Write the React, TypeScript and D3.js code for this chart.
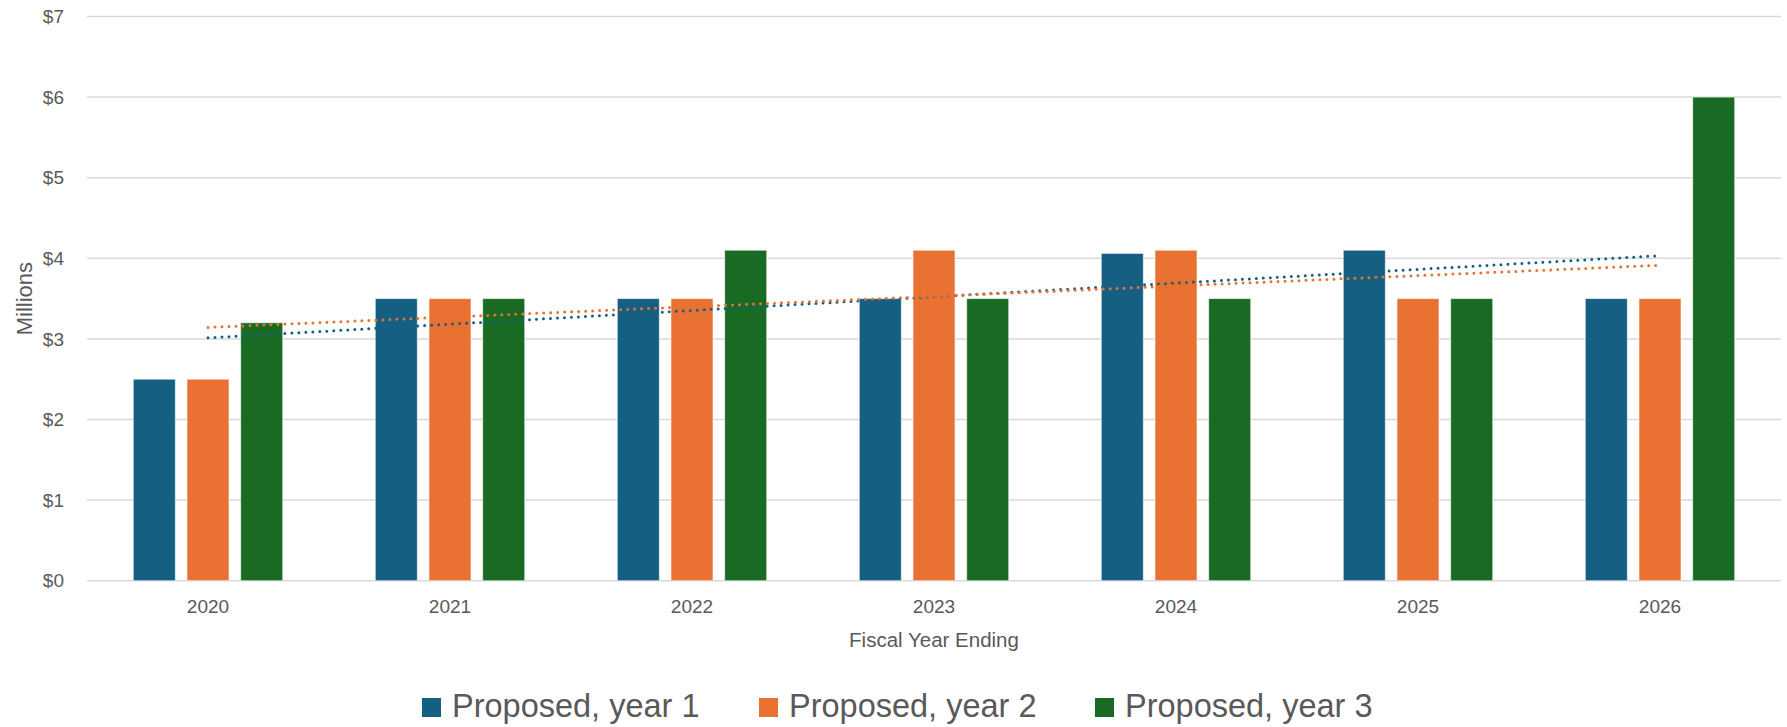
import React from "react";
import * as d3 from "d3";

const categories = ["2020", "2021", "2022", "2023", "2024", "2025", "2026"];
const seriesNames = ["Proposed, year 1", "Proposed, year 2", "Proposed, year 3"];
const year1 = [2.5, 3.5, 3.5, 3.5, 4.06, 4.1, 3.5];
const year2 = [2.5, 3.5, 3.5, 4.1, 4.1, 3.5, 3.5];
const year3 = [3.2, 3.5, 4.1, 3.5, 3.5, 3.5, 6.0];
const yTicks = [0, 1, 2, 3, 4, 5, 6, 7];
const colors = ["#156082", "#E97132", "#196B24"];
const trendSeries = [0, 1]; // trendlines for year 1 and year 2

const W = 1787;
const H = 727;
const FONT = "'Liberation Sans', Arial, sans-serif";
const TXT = "#595959";

function linReg(vals: number[]) {
  const n = vals.length;
  const xs = vals.map((_, i) => i);
  const mx = d3.mean(xs) as number;
  const my = d3.mean(vals) as number;
  let sxy = 0, sxx = 0;
  xs.forEach((x, i) => { sxy += (x - mx) * (vals[i] - my); sxx += (x - mx) * (x - mx); });
  const slope = sxy / sxx;
  const intercept = my - slope * mx;
  return [intercept, intercept + slope * (n - 1)];
}

export default function App() {
  const data = [year1, year2, year3];
  const plotL = 87, plotR = 1781, plotT = 16.5, plotB = 580.7;
  const x = d3.scaleBand<string>().domain(categories).range([plotL, plotR]).padding(0);
  const inner = d3.scaleBand<string>().domain(seriesNames)
    .range([46.3, x.bandwidth() - 46.3]).paddingInner(0.218).paddingOuter(0);
  const y = d3.scaleLinear().domain([0, 7]).range([plotB, plotT]);
  const fmt = (v: number) => "$" + d3.format("d")(v);
  const cx = (c: string) => (x(c) as number) + x.bandwidth() / 2;

  const line = d3.line<[number, number]>().x(d => d[0]).y(d => d[1]);

  const legendX = [422, 759, 1095];

  return (
    <svg width={W} height={H} style={{ position: "absolute", left: 0, top: 0, display: "block", background: "#fff" }}
      fontFamily={FONT}>
      {yTicks.map(t => (
        <g key={t}>
          <line x1={plotL} x2={plotR} y1={y(t)} y2={y(t)} stroke="#D9D9D9" strokeWidth={1.5} />
          <text x={64} y={y(t)} dy="0.35em" textAnchor="end" fontSize={19} fill={TXT}>{fmt(t)}</text>
        </g>
      ))}
      {data.map((vals, si) => (
        <g key={si}>
          {vals.map((v, ci) => {
            const bx = (x(categories[ci]) as number) + (inner(seriesNames[si]) as number);
            return (
              <rect key={ci} x={bx} y={y(v)} width={inner.bandwidth()} height={y(0) - y(v)}
                fill={colors[si]} stroke="#ffffff" strokeOpacity={0.55} strokeWidth={1} />
            );
          })}
        </g>
      ))}
      {trendSeries.map(si => {
        const [a, b] = linReg(data[si]);
        const pts: [number, number][] = [
          [cx(categories[0]), y(a)],
          [cx(categories[categories.length - 1]), y(b)],
        ];
        return (
          <path key={si} d={line(pts) as string} fill="none" stroke={colors[si]} strokeWidth={3}
            strokeDasharray="0 7" strokeLinecap="round" />
        );
      })}
      {categories.map(c => (
        <text key={c} x={cx(c)} y={612.5} textAnchor="middle" fontSize={19} fill={TXT}>{c}</text>
      ))}
      <text x={(plotL + plotR) / 2} y={647} textAnchor="middle" fontSize={20.5} fill={TXT}>Fiscal Year Ending</text>
      <text transform={`translate(31.5, ${(plotT + plotB) / 2}) rotate(-90)`} textAnchor="middle" fontSize={22} fill={TXT}>Millions</text>
      {seriesNames.map((s, i) => (
        <g key={s}>
          <rect x={legendX[i]} y={698} width={19} height={19} fill={colors[i]} />
          <text x={legendX[i] + 30} y={716.5} fontSize={32.5} fill={TXT}>{s}</text>
        </g>
      ))}
    </svg>
  );
}
